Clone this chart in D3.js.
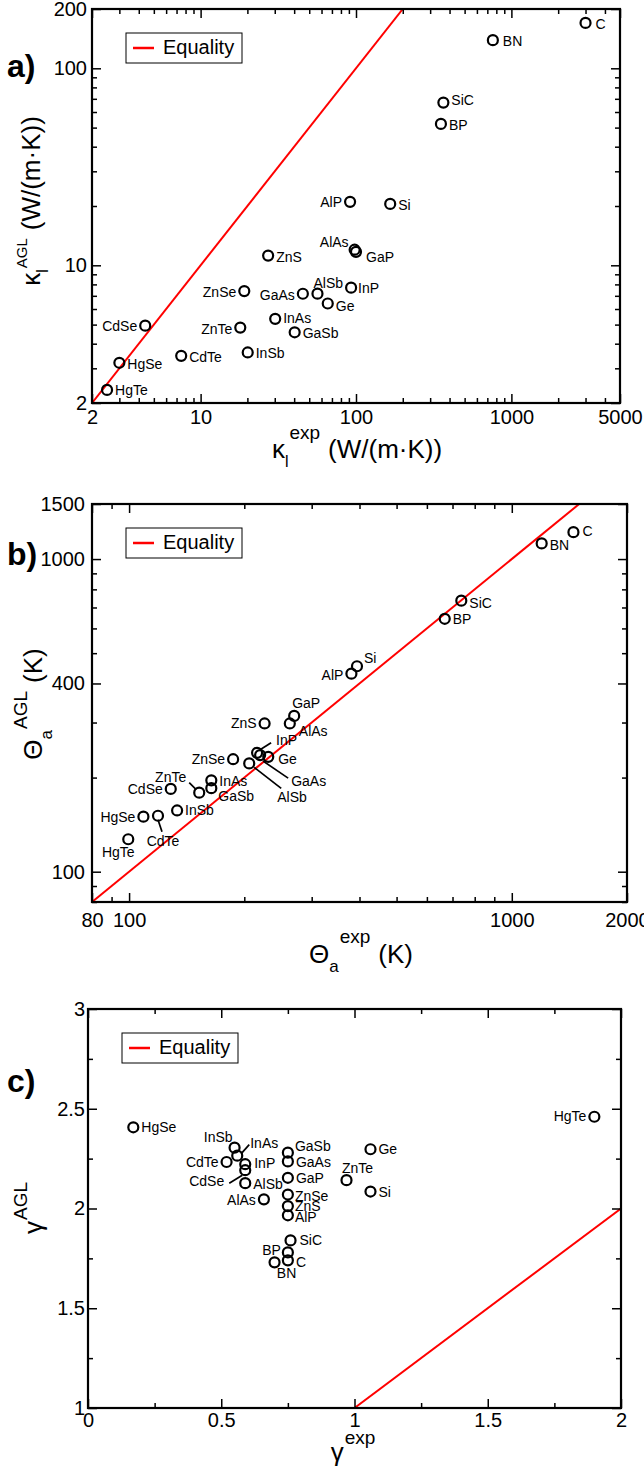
<!DOCTYPE html>
<html><head><meta charset="utf-8">
<script src="https://cdn.jsdelivr.net/npm/d3@7"></script>
<style>
body{margin:0;background:#fff}
svg{display:block}
text{font-family:"Liberation Sans", Arial, Helvetica, sans-serif;fill:#000}
</style></head><body>
<svg id="chart" width="644" height="1471"></svg>
<script>
// ---------------- data ----------------
const compounds = ["C","BN","SiC","BP","Si","AlP","GaP","AlAs","ZnS","InP","GaAs","Ge","AlSb","ZnSe","InAs","GaSb","ZnTe","CdSe","InSb","HgSe","CdTe","HgTe"];

// panel a: lattice thermal conductivity (W/(m·K))
const kappaExp = [3000,760,365,352,166,91.6,100,98,27.2,93,45.5,65.8,56.5,19.1,30.2,40.3,18.0,4.4,20.1,3.0,7.5,2.5];
const kappaAGL = [170,139,67,52.2,20.5,21.0,11.7,12.0,11.2,7.7,7.17,6.4,7.18,7.4,5.35,4.57,4.83,4.94,3.61,3.2,3.47,2.33];

// panel b: acoustic Debye temperature (K)
const thetaExp = [1449,1197,738,668,394,381,270,263,226,216,220,231,206,187,164,164,152.5,128.5,133.5,109,119,99.5];
const thetaAGL = [1219,1122,736,644,454,430,315,298,298,240,236,233,222,229,196,185,179,184,157,150,151,127];

// panel c: Grüneisen parameter
const gammaExp = [0.75,0.70,0.76,0.75,1.06,0.75,0.75,0.66,0.75,0.59,0.75,1.06,0.59,0.75,0.56,0.75,0.97,0.59,0.55,0.17,0.52,1.90];
const gammaAGL = [1.74,1.73,1.84,1.78,2.085,1.966,2.154,2.046,2.012,2.222,2.236,2.297,2.127,2.07,2.265,2.28,2.142,2.192,2.305,2.407,2.233,2.46];

// tick labels
const kappaTicksX = [2,10,100,1000,5000];
const kappaTicksY = [2,10,100,200];
const thetaTicksX = [80,100,1000,2000];
const thetaTicksY = [100,400,1000,1500];
const gammaTicksX = [0,0.5,1,1.5,2];
const gammaTicksY = [1,1.5,2,2.5,3];
const gammaMinorX = [0.25,0.75,1.25,1.75];
const gammaMinorY = [1.25,1.75,2.25,2.75];

const legendText = "Equality";

// ---------------- label placement (layout) ----------------
// name: [dx, dy, anchor, leader(x1,y1,x2,y2)?]
const placeA = {
  C:[9,1,"start"], BN:[9,1,"start"], SiC:[7,-3,"start"], BP:[7,1,"start"], Si:[7,1,"start"],
  AlP:[-7,0,"end"], GaP:[9,5,"start"], AlAs:[-5,-8,"end"], ZnS:[7,1,"start"], InP:[6,0,"start"],
  GaAs:[-7,1,"end"], Ge:[7,2,"start"], AlSb:[-5,-11,"start"], ZnSe:[-7,1,"end"], InAs:[7,-1,"start"],
  GaSb:[7,1,"start"], ZnTe:[-7,1,"end"], CdSe:[-7,0,"end"], InSb:[7,0,"start"], HgSe:[7,1,"start"],
  CdTe:[7,1,"start"], HgTe:[7,0,"start"]
};
const placeB = {
  C:[8,-1,"start"], BN:[7,2,"start"], SiC:[7,2,"start"], BP:[7,0,"start"], Si:[6,-8,"start"],
  AlP:[-7,1,"end"], GaP:[-3,-13,"start"], AlAs:[8,8,"start"], ZnS:[-7,0,"end"],
  InP:[18,-13,"start",[3,-3,14,-10]], GaAs:[30,26,"start",[3,6,28,23]], Ge:[9,2,"start"],
  AlSb:[27,34,"start",[5,4,32,25]], ZnSe:[-7,0,"end"], InAs:[7,1,"start"], GaSb:[6,8,"start"],
  ZnTe:[-12,-16,"end",[-10,-10,-3,-3]], CdSe:[-7,0,"end"], InSb:[7,0,"start"], HgSe:[-7,0,"end"],
  CdTe:[5,25,"middle",[0,4,4,16]], HgTe:[-10,13,"middle"]
};
const placeC = {
  C:[7,2,"start"], BN:[12,11,"middle"], SiC:[8,0,"start"], BP:[-6,-2,"end"], Si:[7,0,"start"],
  AlP:[6,2,"start"], GaP:[7,0,"start"], AlAs:[-7,1,"end"], ZnS:[6,0,"start"], InP:[8,-1,"start"],
  GaAs:[7,1,"start"], Ge:[7,0,"start"], AlSb:[7,1,"start"], ZnSe:[6,1,"start"],
  InAs:[12,-13,"start",[4,-2,12,-11]], GaSb:[6,-7,"start"], ZnTe:[11,-12,"middle"],
  CdSe:[-20,11,"end",[-16,13,-3,5]], InSb:[-1,-11,"end"], HgSe:[7,0,"start"],
  CdTe:[-7,0,"end"], HgTe:[-7,-1,"end"]
};

// ---------------- drawing ----------------
const svg = d3.select("#chart");

function logMinors(domain, majors) {
  const out = [];
  const k0 = Math.floor(Math.log10(domain[0])), k1 = Math.ceil(Math.log10(domain[1]));
  for (let k = k0; k <= k1; k++) for (let m = 1; m <= 9; m++) {
    const v = +(m * Math.pow(10, k)).toPrecision(6);
    if (v >= domain[0] * 0.999 && v <= domain[1] * 1.001 && !majors.some(t => Math.abs(t - v) / v < 1e-6)) out.push(v);
  }
  return out;
}

function styleAxis(sel, fs) {
  sel.select(".domain").remove();
  sel.selectAll(".tick line").attr("stroke", "#000").attr("stroke-width", 1.5);
  sel.selectAll("text").attr("font-size", fs).attr("font-family", '"Liberation Sans", Arial, sans-serif').attr("fill", "#000");
  sel.attr("font-family", null).attr("font-size", null);
}

function title(g, parts, tx, ty, rotate) {
  const t = g.append("text").attr("text-anchor", "middle")
    .attr("transform", `translate(${tx},${ty})` + (rotate ? " rotate(-90)" : ""));
  let cur = 0;
  parts.forEach(pt => {
    const s = t.append("tspan").attr("font-size", pt.size).text(pt.text);
    const sh = pt.shift || 0;
    if (sh - cur !== 0) s.attr("dy", sh - cur);
    cur = sh;
    if (pt.dx) s.attr("dx", pt.dx);
  });
}

function drawPanel(p) {
  const g = svg.append("g");
  const x = (p.log ? d3.scaleLog() : d3.scaleLinear()).domain(p.xDomain).range([p.left, p.right]);
  const y = (p.log ? d3.scaleLog() : d3.scaleLinear()).domain(p.yDomain).range([p.bottom, p.top]);
  const W = p.right - p.left, H = p.bottom - p.top;
  const clipId = "clip-" + p.id;
  svg.append("clipPath").attr("id", clipId).append("rect")
    .attr("x", p.left).attr("y", p.top).attr("width", W).attr("height", H);

  // equality line
  const lo = Math.max(p.xDomain[0], p.yDomain[0]), hi = Math.min(p.xDomain[1], p.yDomain[1]);
  g.append("line").attr("clip-path", `url(#${clipId})`)
    .attr("x1", x(lo)).attr("y1", y(lo)).attr("x2", x(hi)).attr("y2", y(hi))
    .attr("stroke", "#ff0000").attr("stroke-width", 2);

  const fmt = d => String(d);
  const xMinor = p.log ? logMinors(p.xDomain, p.xTicks) : p.xMinor;
  const yMinor = p.log ? logMinors(p.yDomain, p.yTicks) : p.yMinor;
  const MAJ = 9, MIN = 5;

  g.append("g").attr("transform", `translate(0,${p.bottom})`)
    .call(d3.axisBottom(x).tickValues(p.xTicks).tickSize(-MAJ).tickPadding(p.xPad).tickFormat(fmt)).call(s => styleAxis(s, 20));
  g.append("g").attr("transform", `translate(0,${p.bottom})`)
    .call(d3.axisBottom(x).tickValues(xMinor).tickSize(-MIN).tickFormat("")).call(s => styleAxis(s, 20));
  g.append("g").attr("transform", `translate(0,${p.top})`)
    .call(d3.axisTop(x).tickValues(p.xTicks).tickSize(-MAJ).tickFormat("")).call(s => styleAxis(s, 20));
  g.append("g").attr("transform", `translate(0,${p.top})`)
    .call(d3.axisTop(x).tickValues(xMinor).tickSize(-MIN).tickFormat("")).call(s => styleAxis(s, 20));
  g.append("g").attr("transform", `translate(${p.left},0)`)
    .call(d3.axisLeft(y).tickValues(p.yTicks).tickSize(-MAJ).tickPadding(p.yPad).tickFormat(fmt)).call(s => styleAxis(s, 20));
  g.append("g").attr("transform", `translate(${p.left},0)`)
    .call(d3.axisLeft(y).tickValues(yMinor).tickSize(-MIN).tickFormat("")).call(s => styleAxis(s, 20));
  g.append("g").attr("transform", `translate(${p.right},0)`)
    .call(d3.axisRight(y).tickValues(p.yTicks).tickSize(-MAJ).tickFormat("")).call(s => styleAxis(s, 20));
  g.append("g").attr("transform", `translate(${p.right},0)`)
    .call(d3.axisRight(y).tickValues(yMinor).tickSize(-MIN).tickFormat("")).call(s => styleAxis(s, 20));

  // frame
  g.append("rect").attr("x", p.left).attr("y", p.top).attr("width", W).attr("height", H)
    .attr("fill", "none").attr("stroke", "#000").attr("stroke-width", 2.2);

  // points
  const rows = compounds.map((n, i) => ({ name: n, xv: p.xs[i], yv: p.ys[i] }));
  const pg = g.append("g");
  rows.forEach(r => {
    const cx = x(r.xv), cy = y(r.yv);
    const pl = p.place[r.name];
    if (pl[3]) {
      const L = pl[3];
      pg.append("line").attr("x1", cx + L[0]).attr("y1", cy + L[1]).attr("x2", cx + L[2]).attr("y2", cy + L[3])
        .attr("stroke", "#000").attr("stroke-width", 1.7);
    }
    pg.append("circle").attr("cx", cx).attr("cy", cy).attr("r", 5)
      .attr("fill", "none").attr("stroke", "#000").attr("stroke-width", 2.2);
    pg.append("text").attr("x", cx + pl[0] + (pl[2] === "start" ? 1 : pl[2] === "end" ? -1 : 0)).attr("y", cy + pl[1]).attr("dy", "0.36em")
      .attr("text-anchor", pl[2]).attr("font-size", 14).text(r.name);
  });

  // legend
  const lx = p.left + 34, ly = p.top + 24;
  g.append("rect").attr("x", lx).attr("y", ly).attr("width", 116).attr("height", 30)
    .attr("fill", "#fff").attr("stroke", "#000").attr("stroke-width", 1);
  g.append("line").attr("x1", lx + 7).attr("x2", lx + 28).attr("y1", ly + 15).attr("y2", ly + 15)
    .attr("stroke", "#ff0000").attr("stroke-width", 2.5);
  g.append("text").attr("x", lx + 37).attr("y", ly + 21).attr("font-size", 20).text(legendText);

  // panel letter
  g.append("text").attr("x", 7).attr("y", p.letterY).attr("font-size", 32).attr("font-weight", "bold").text(p.letter);

  // titles
  title(g, p.xTitle, p.xTitlePos[0], p.xTitlePos[1], false);
  title(g, p.yTitle, p.yTitlePos[0], p.yTitlePos[1], true);
}

drawPanel({
  id: "a", log: true, left: 92, right: 620, top: 9, bottom: 403,
  xDomain: [2, 5000], yDomain: [2, 200], xTicks: kappaTicksX, yTicks: kappaTicksY,
  xPad: 7, yPad: 5, xs: kappaExp, ys: kappaAGL, place: placeA, letter: "a)", letterY: 77,
  xTitle: [{text:"κ",size:26},{text:"l",size:16,shift:9},{text:"exp",size:19,shift:-19,dx:1},{text:"(W/(m·K))",size:26,shift:0,dx:8}],
  xTitlePos: [357, 458],
  yTitle: [{text:"κ",size:26},{text:"l",size:16,shift:8},{text:"AGL",size:15,shift:-13,dx:1},{text:"(W/(m·K))",size:26,shift:0,dx:8}],
  yTitlePos: [40, 201]
});

drawPanel({
  id: "b", log: true, left: 92, right: 627, top: 504, bottom: 902,
  xDomain: [80, 2000], yDomain: [80, 1500], xTicks: thetaTicksX, yTicks: thetaTicksY,
  xPad: 11, yPad: 7, xs: thetaExp, ys: thetaAGL, place: placeB, letter: "b)", letterY: 565,
  xTitle: [{text:"Θ",size:26},{text:"a",size:17,shift:9},{text:"exp",size:19,shift:-20,dx:1},{text:"(K)",size:26,shift:0,dx:8}],
  xTitlePos: [361, 963],
  yTitle: [{text:"Θ",size:26},{text:"a",size:17,shift:10},{text:"AGL",size:19,shift:-15,dx:1},{text:"(K)",size:26,shift:0,dx:8}],
  yTitlePos: [42, 704]
});

drawPanel({
  id: "c", log: false, left: 88, right: 621, top: 1009, bottom: 1408,
  xDomain: [0, 2], yDomain: [1, 3], xTicks: gammaTicksX, yTicks: gammaTicksY,
  xMinor: gammaMinorX, yMinor: gammaMinorY,
  xPad: 5, yPad: 3, xs: gammaExp, ys: gammaAGL, place: placeC, letter: "c)", letterY: 1092,
  xTitle: [{text:"γ",size:26},{text:"exp",size:19,shift:-17,dx:1}],
  xTitlePos: [353, 1461],
  yTitle: [{text:"γ",size:26},{text:"AGL",size:19,shift:-15,dx:1}],
  yTitlePos: [42, 1208]
});
</script>
</body></html>
